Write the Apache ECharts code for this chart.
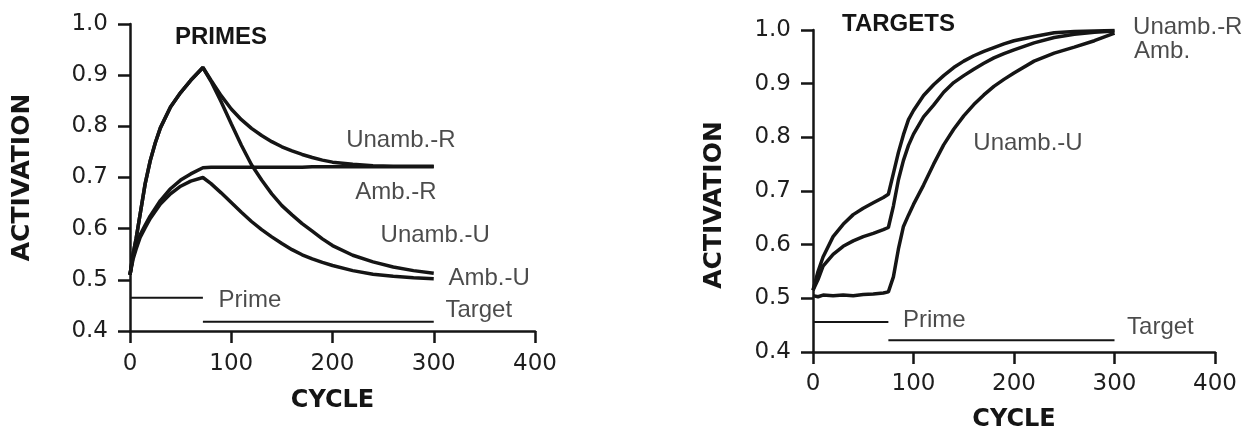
<!DOCTYPE html>
<html>
<head>
<meta charset="utf-8">
<script src="https://cdn.jsdelivr.net/npm/echarts@6/dist/echarts.min.js"></script>
<style>
html,body{margin:0;padding:0;background:#fff;}
#chart{width:1246px;height:432px;}
</style>
</head>
<body>
<div id="chart"></div>
<script>
// ---------- DATA ----------
const yTicks = [0.4, 0.5, 0.6, 0.7, 0.8, 0.9, 1.0];
const xTicks = [0, 100, 200, 300, 400];

// PRIMES panel
const primeCycles   = [0, 3, 6, 10, 15, 20, 25, 30, 40, 50, 60, 72, 80, 90, 100, 110, 120, 130, 140, 150, 160, 170, 180, 190, 200, 220, 240, 260, 280, 300];
const primeUnambR   = [0.51, 0.55, 0.58, 0.628, 0.688, 0.733, 0.768, 0.797, 0.838, 0.866, 0.89, 0.915, 0.89, 0.86, 0.834, 0.813, 0.796, 0.782, 0.77, 0.76, 0.752, 0.745, 0.739, 0.734, 0.73, 0.726, 0.723, 0.722, 0.722, 0.722];
const primeUnambU   = [0.51, 0.55, 0.58, 0.628, 0.688, 0.733, 0.768, 0.797, 0.838, 0.866, 0.89, 0.915, 0.888, 0.848, 0.805, 0.763, 0.725, 0.695, 0.668, 0.645, 0.627, 0.61, 0.595, 0.58, 0.567, 0.548, 0.535, 0.525, 0.518, 0.513];
const primeAmbR     = [0.51, 0.545, 0.565, 0.588, 0.607, 0.625, 0.64, 0.655, 0.678, 0.695, 0.707, 0.719, 0.72, 0.72, 0.72, 0.72, 0.72, 0.72, 0.72, 0.72, 0.72, 0.72, 0.721, 0.721, 0.721, 0.721, 0.721, 0.721, 0.721, 0.721];
const primeAmbU     = [0.51, 0.54, 0.56, 0.583, 0.602, 0.62, 0.634, 0.648, 0.668, 0.683, 0.693, 0.70, 0.688, 0.67, 0.651, 0.632, 0.614, 0.598, 0.584, 0.571, 0.559, 0.549, 0.541, 0.534, 0.528, 0.518, 0.511, 0.507, 0.504, 0.502];
const primeBarPrime  = [[0, 0.465], [72, 0.465]];
const primeBarTarget = [[72, 0.418], [300, 0.418]];
const primeLabelText = ['Unamb.-R', 'Amb.-R', 'Unamb.-U', 'Amb.-U', 'Prime', 'Target'];
const primeLabelX    = [213, 222, 247, 314, 87, 311];
const primeLabelY    = [0.772, 0.67, 0.586, 0.502, 0.459, 0.44];

// TARGETS panel
const targetCycles  = [0, 5, 10, 20, 30, 40, 50, 60, 70, 75, 80, 85, 90, 95, 100, 110, 120, 130, 140, 150, 160, 170, 180, 190, 200, 220, 240, 260, 280, 300];
const targetUnambR  = [0.515, 0.55, 0.577, 0.615, 0.638, 0.656, 0.668, 0.678, 0.688, 0.694, 0.733, 0.772, 0.805, 0.833, 0.85, 0.878, 0.898, 0.915, 0.93, 0.942, 0.952, 0.96, 0.967, 0.974, 0.98, 0.988, 0.995, 0.997, 0.998, 0.999];
const targetAmb     = [0.515, 0.535, 0.56, 0.582, 0.597, 0.607, 0.615, 0.621, 0.628, 0.632, 0.672, 0.721, 0.757, 0.785, 0.806, 0.838, 0.86, 0.884, 0.902, 0.915, 0.927, 0.938, 0.948, 0.956, 0.963, 0.976, 0.986, 0.992, 0.996, 0.998];
const targetUnambU  = [0.505, 0.503, 0.506, 0.505, 0.506, 0.505, 0.507, 0.508, 0.51, 0.512, 0.54, 0.592, 0.634, 0.655, 0.675, 0.711, 0.75, 0.786, 0.815, 0.84, 0.861, 0.879, 0.895, 0.908, 0.92, 0.942, 0.957, 0.968, 0.98, 0.994];
const targetBarPrime  = [[0, 0.456], [75, 0.456]];
const targetBarTarget = [[75, 0.422], [300, 0.422]];
const targetLabelText = ['Unamb.-R', 'Amb.', 'Unamb.-U', 'Prime', 'Target'];
const targetLabelX    = [318, 319, 159, 89, 312];
const targetLabelY    = [1.005, 0.96, 0.788, 0.458, 0.445];

// ---------- CHART ----------
const INK = '#151515';
const zip = (xs, ys) => xs.map((x, i) => [x, ys[i]]);
const labelPts = (t, xs, ys) => t.map((n, i) => ({ name: n, value: [xs[i], ys[i]] }));

function xAxis(gridIndex, labelMargin, nameGap) {
  return {
    gridIndex, type: 'value', min: 0, max: 400, interval: 100,
    name: 'CYCLE', nameLocation: 'middle', nameGap,
    nameTextStyle: { fontFamily: 'DejaVu Sans', fontWeight: 'bold', fontSize: 24, color: INK },
    axisLine: { show: true, onZero: false, lineStyle: { color: INK, width: 2.5 } },
    axisTick: { show: true, inside: false, length: 12, lineStyle: { color: INK, width: 2.5 } },
    axisLabel: { margin: labelMargin, fontFamily: 'DejaVu Sans', fontSize: 23, color: '#1e1e1e' },
    splitLine: { show: false }
  };
}
function yAxis(gridIndex, nameGap, namePad) {
  return {
    gridIndex, type: 'value', min: 0.4, max: 1.0, interval: 0.1,
    name: 'ACTIVATION', nameLocation: 'middle', nameGap, nameRotate: 90,
    nameTextStyle: { fontFamily: 'DejaVu Sans', fontWeight: 'bold', fontSize: 25, color: INK, padding: namePad },
    axisLine: { show: true, onZero: false, lineStyle: { color: INK, width: 2.5 } },
    axisTick: { show: true, inside: false, length: 12, lineStyle: { color: INK, width: 2.5 } },
    axisLabel: { margin: 22, fontFamily: 'DejaVu Sans', fontSize: 23, color: '#1e1e1e', formatter: v => v.toFixed(1) },
    splitLine: { show: false }
  };
}
function curve(name, data, gi, width) {
  return {
    name, type: 'line', xAxisIndex: gi, yAxisIndex: gi, data,
    showSymbol: false, symbol: 'none', smooth: false, silent: true,
    lineStyle: { color: INK, width: width || 3.5 }
  };
}
function labels(data, gi) {
  return {
    type: 'scatter', xAxisIndex: gi, yAxisIndex: gi, data, clip: false, silent: true,
    symbolSize: 1, itemStyle: { color: 'rgba(0,0,0,0)' },
    label: { show: true, position: 'right', distance: 0, formatter: p => p.name,
      fontFamily: 'Liberation Sans', fontSize: 24, color: '#1e1e1e' }
  };
}

const chart = echarts.init(document.getElementById('chart'), null, { renderer: 'canvas' });
chart.setOption({
  backgroundColor: '#ffffff',
  animation: false,
  title: [
    { text: 'PRIMES', left: 175, top: 25, padding: 0,
      textStyle: { fontFamily: 'Liberation Sans', fontWeight: 'bold', fontSize: 24, color: INK } },
    { text: 'TARGETS', left: 842, top: 12, padding: 0,
      textStyle: { fontFamily: 'Liberation Sans', fontWeight: 'bold', fontSize: 24, color: INK } }
  ],
  grid: [
    { left: 130, top: 24, width: 405, height: 307, containLabel: false, outerBoundsMode: 'none' },
    { left: 813, top: 30, width: 402, height: 322, containLabel: false, outerBoundsMode: 'none' }
  ],
  xAxis: [xAxis(0, 22, 58), xAxis(1, 21, 56)],
  yAxis: [yAxis(0, 95, [0, 0, 0, 0]), yAxis(1, 86, [0, 28, 0, 0])],
  series: [
    curve('Unamb.-R', zip(primeCycles, primeUnambR), 0),
    curve('Unamb.-U', zip(primeCycles, primeUnambU), 0),
    curve('Amb.-R', zip(primeCycles, primeAmbR), 0),
    curve('Amb.-U', zip(primeCycles, primeAmbU), 0),
    curve('Prime', primeBarPrime, 0, 2),
    curve('Target', primeBarTarget, 0, 2),
    labels(labelPts(primeLabelText, primeLabelX, primeLabelY), 0),

    curve('Unamb.-R', zip(targetCycles, targetUnambR), 1),
    curve('Amb.', zip(targetCycles, targetAmb), 1),
    curve('Unamb.-U', zip(targetCycles, targetUnambU), 1),
    curve('Prime', targetBarPrime, 1, 2),
    curve('Target', targetBarTarget, 1, 2),
    labels(labelPts(targetLabelText, targetLabelX, targetLabelY), 1)
  ]
});
</script>
</body>
</html>
